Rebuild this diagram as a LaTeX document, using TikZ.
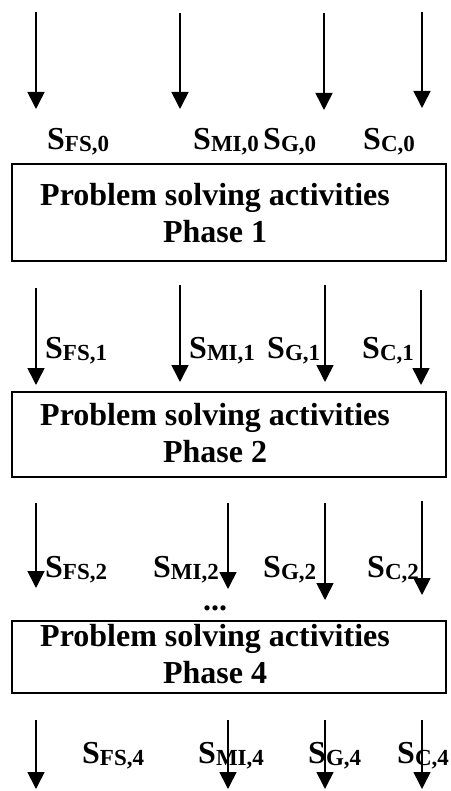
\documentclass[tikz,border=0pt]{standalone}
\usepackage{fontspec}
\setmainfont{Liberation Serif}
\usetikzlibrary{arrows.meta}
\newcommand{\slab}[1]{S\raisebox{-2pt}{\fontsize{23}{23}\selectfont #1}}

\begin{document}
\begin{tikzpicture}[x=1pt, y=-1pt, >={Triangle[width=17pt,length=17pt]},
  flow/.style={->, line width=1.6pt},
  phasebox/.style={draw, line width=2pt, minimum width=434pt, inner sep=0pt},
  phasetext/.style={align=center, inner sep=0pt, font=\fontsize{32}{37}\selectfont\bfseries},
  sym/.style={anchor=base west, inner sep=0pt, font=\fontsize{32}{32}\selectfont\bfseries}]
  \useasboundingbox (0,0) rectangle (450,791);

  % 1. phase boxes, text a bit left of the box centre
  \node[phasebox, minimum height=97pt] (box1) at (229,212.5) {};
  \node[phasetext] (txt1) at (215,212.7) {Problem solving activities\\Phase 1};
  \node[phasebox, minimum height=85pt] (box2) at (229,434.5) {};
  \node[phasetext] (txt2) at (215,432.7) {Problem solving activities\\Phase 2};
  \node[phasebox, minimum height=72pt] (box4) at (229,657) {};
  \node[phasetext] (txt4) at (215,653.7) {Problem solving activities\\Phase 4};
  \node[phasetext] (dots) at (215,608) {...};

  % 2. state arrows (top and tip as coordinates)
  \foreach \n/\x/\ya/\yb in {fs0/36/12/109, mi0/180/13/109, g0/324/13/110, c0/422/12/108,
                             fs1/36/288/385, mi1/180/285/382, g1/325/285/382, c1/421/290/385,
                             fs2/36/503/588, mi2/228/503/589, g2/325/503/600, c2/422/501/595,
                             fs4/36/720/789, mi4/228/720/789, g4/325/720/789, c4/422/720/789}
  {
    \coordinate (top-\n) at (\x,\ya);
    \coordinate (tip-\n) at (\x,\yb);
    \draw[flow] (top-\n) -- (tip-\n);
  }

  % 3. state labels S_{k,i}
  \foreach \n/\x/\y/\s in {fs0/47/150/{FS,0}, mi0/193/150/{MI,0}, g0/263/150/{G,0}, c0/363/150/{C,0},
                           fs1/45/358/{FS,1}, mi1/189/358/{MI,1}, g1/267/358/{G,1}, c1/362/358/{C,1},
                           fs2/45/577/{FS,2}, mi2/153/577/{MI,2}, g2/263/577/{G,2}, c2/367/577/{C,2},
                           fs4/82/763/{FS,4}, mi4/198/763/{MI,4}, g4/308/763/{G,4}, c4/397/763/{C,4}}
    \node[sym] (lab-\n) at (\x,\y) {\slab{\s}};
\end{tikzpicture}
\end{document}
